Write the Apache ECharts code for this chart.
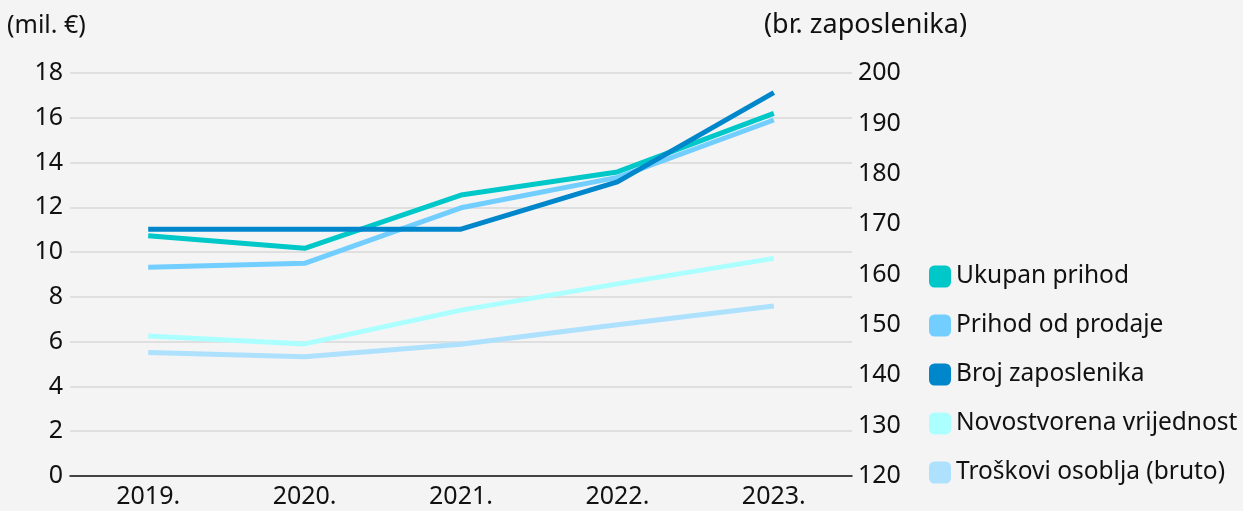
<!DOCTYPE html>
<html>
<head>
<meta charset="utf-8">
<script src="https://cdn.jsdelivr.net/npm/echarts@6/dist/echarts.min.js"></script>
<style>
  html, body { margin: 0; padding: 0; background: #f4f4f4; }
  #chart { width: 1243px; height: 511px; }
</style>
</head>
<body>
<div id="chart"></div>
<script>
const years = ['2019.', '2020.', '2021.', '2022.', '2023.'];

// mil. €
const ukupanPrihod = [10.73, 10.17, 12.55, 13.58, 16.2];
const prihodOdProdaje = [9.32, 9.5, 11.98, 13.34, 15.9];
const novostvorenaVrijednost = [6.25, 5.9, 7.41, 8.58, 9.72];
const troskoviOsoblja = [5.52, 5.33, 5.88, 6.76, 7.59];

// br. zaposlenika (desna os)
const brojZaposlenika = [169, 169, 169, 178.4, 196.1];

const FONT = 'Noto Sans';

const chart = echarts.init(document.getElementById('chart'));

function lineSeries(name, data, color, axis) {
  return {
    name: name,
    type: 'line',
    yAxisIndex: axis,
    data: data,
    symbol: 'none',
    color: color,
    lineStyle: { width: 5, color: color },
    itemStyle: { color: color }
  };
}

var option = {
  backgroundColor: '#f4f4f4',
  animation: false,
  textStyle: { fontFamily: FONT },
  grid: { left: 70, right: 391, top: 73, bottom: 35 },
  legend: {
    orient: 'vertical',
    left: 924,
    top: 259,
    icon: 'roundRect',
    itemWidth: 22,
    itemHeight: 22,
    itemGap: 24,
    textStyle: { fontFamily: FONT, fontSize: 24.5, color: '#111', lineHeight: 24 },
    data: ['Ukupan prihod', 'Prihod od prodaje', 'Broj zaposlenika', 'Novostvorena vrijednost', 'Troškovi osoblja (bruto)']
  },
  graphic: [
    { type: 'text', left: 7, top: 13, style: { text: '(mil. €)', fontFamily: FONT, fontSize: 25, fill: '#111' } },
    { type: 'text', left: 764, top: 12, style: { text: '(br. zaposlenika)', fontFamily: FONT, fontSize: 27, fill: '#111' } }
  ],
  xAxis: {
    type: 'category',
    data: years,
    axisLine: { lineStyle: { color: '#111', width: 1.5 } },
    axisTick: { show: false },
    axisLabel: { color: '#111', fontSize: 25, fontFamily: FONT, margin: 8 }
  },
  yAxis: [
    {
      type: 'value',
      min: 0, max: 18, interval: 2,
      axisLine: { show: false },
      axisTick: { show: false },
      axisLabel: { color: '#111', fontSize: 25, fontFamily: FONT, margin: 7 },
      splitLine: { lineStyle: { color: '#d9d9d9', width: 1.5 } }
    },
    {
      type: 'value',
      min: 120, max: 200, interval: 10,
      axisLine: { show: false },
      axisTick: { show: false },
      axisLabel: { color: '#111', fontSize: 25, fontFamily: FONT, margin: 6 },
      splitLine: { show: false }
    }
  ],
  series: [
    lineSeries('Ukupan prihod', ukupanPrihod, '#00c8c8', 0),
    lineSeries('Prihod od prodaje', prihodOdProdaje, '#72ceff', 0),
    lineSeries('Novostvorena vrijednost', novostvorenaVrijednost, '#acffff', 0),
    lineSeries('Troškovi osoblja (bruto)', troskoviOsoblja, '#aee1fd', 0),
    lineSeries('Broj zaposlenika', brojZaposlenika, '#0086cb', 1)
  ]
};

chart.setOption(option);
</script>
</body>
</html>
